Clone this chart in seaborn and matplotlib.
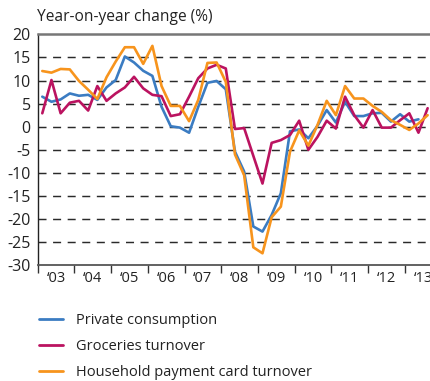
import numpy as np
import pandas as pd
import matplotlib
matplotlib.use("Agg")
import matplotlib.pyplot as plt
from matplotlib.lines import Line2D
import seaborn as sns

# Quarterly year-on-year changes, 2003Q1 onwards (%)
private_consumption = [
    6.5, 5.4, 5.9, 7.2, 6.7, 6.9, 5.8, 8.5, 10.1, 15.2, 13.9, 12.1, 11.0, 4.3,
    0.1, -0.2, -1.3, 4.3, 9.5, 9.9, 8.1, -5.4, -9.7, -21.6, -22.7, -19.1, -14.4,
    -1.0, -0.6, -2.5, 0.2, 3.6, 0.9, 5.4, 2.3, 2.3, 2.9, 3.0, 1.1, 2.7, 1.1, 1.6,
]
groceries_turnover = [
    2.9, 10.1, 2.9, 5.2, 5.6, 3.5, 8.8, 5.6, 7.2, 8.5, 10.8, 8.3, 6.9, 6.6,
    2.3, 2.7, 6.5, 10.5, 12.6, 13.4, 12.6, -0.5, -0.3, -6.3, -12.3, -3.5, -2.9,
    -1.8, 1.3, -5.0, -2.2, 1.3, -0.4, 6.5, 2.5, -0.2, 3.6, -0.2, -0.2, 1.4, 2.9,
    -1.3, 4.0,
]
card_turnover = [
    12.05, 11.7, 12.5, 12.4, 9.9, 8.0, 6.0, 10.7, 14.1, 17.2, 17.2, 13.6, 17.5,
    8.8, 4.5, 4.5, 1.2, 5.8, 13.8, 13.9, 9.7, -6.0, -10.5, -26.1, -27.4, -19.6,
    -17.3, -5.4, -0.8, -4.1, 0.4, 5.6, 2.5, 8.8, 6.1, 6.1, 4.5, 3.2, 1.4, 0.4,
    -0.7, 0.7, 2.5,
]

series_names = ["Private consumption", "Groceries turnover",
                "Household payment card turnover"]
series_values = [private_consumption, groceries_turnover, card_turnover]
colors = ["#3b7cc2", "#bb1360", "#f7941d"]

years = list(range(2003, 2014))
year_labels = ["\u2018" + str(y)[2:] for y in years]
y_ticks = list(range(-30, 21, 5))

rows = []
for name, vals in zip(series_names, series_values):
    for i, v in enumerate(vals):
        # each quarter is drawn at its mid-point
        rows.append({"t": 2003 + (i + 0.5) / 4, "value": v, "series": name})
df = pd.DataFrame(rows)

sns.set_theme(style="white")
plt.rcParams["font.family"] = ["Open Sans", "DejaVu Sans"]

fig = plt.figure(figsize=(4.30, 3.81), dpi=100)
ax = fig.add_axes([37.7 / 430, 1 - 265.3 / 381, 1 - 37.7 / 430,
                   (265.3 - 34.3) / 381])

sns.lineplot(data=df, x="t", y="value", hue="series", hue_order=series_names,
             palette=colors, linewidth=1.9, legend=False, ax=ax, sort=False,
             estimator=None)

ax.set_xlim(2003, 2003 + (430 - 37.7) / 36.7)
ax.set_ylim(-30, 20)

# dashed reference lines
for y in y_ticks[1:-1]:
    ax.axhline(y, color="#2a2a2a", lw=1.05, ls=(0, (5.5, 4.5)), zorder=0)

ax.set_yticks(y_ticks)
ax.set_yticklabels([str(v) for v in y_ticks])
ax.set_xticks([y + 0.5 for y in years])
ax.set_xticklabels(year_labels)
ax.set_xticks(years, minor=True)
ax.tick_params(axis="x", which="major", length=0, pad=4, labelsize=10.5,
               colors="#222222")
ax.tick_params(axis="x", which="minor", length=6, width=1.0, direction="out",
               color="#333333", bottom=True)
ax.tick_params(axis="y", length=0, pad=5, labelsize=11.5, colors="#222222")
ax.set_xlabel("")
ax.set_ylabel("")

ax.spines["right"].set_visible(False)
ax.spines["top"].set_color("#777777")
ax.spines["top"].set_linewidth(1.8)
ax.spines["left"].set_color("#222222")
ax.spines["left"].set_linewidth(1.0)
ax.spines["bottom"].set_color("#555555")
ax.spines["bottom"].set_linewidth(1.3)

fig.text(37 / 430, 1 - 17 / 381, "Year-on-year change (%)", ha="left",
         va="center", fontsize=11.2, color="#222222")

handles = [Line2D([0], [0], color=c, lw=2.0) for c in colors]
fig.legend(handles, series_names, loc="upper left",
           bbox_to_anchor=(39 / 430, 1 - 313 / 381), frameon=False,
           borderaxespad=0, borderpad=0,
           fontsize=10.5, handlelength=1.65, handletextpad=0.9,
           labelspacing=0.75, labelcolor="#222222")

fig.savefig("out.png", dpi=100)
